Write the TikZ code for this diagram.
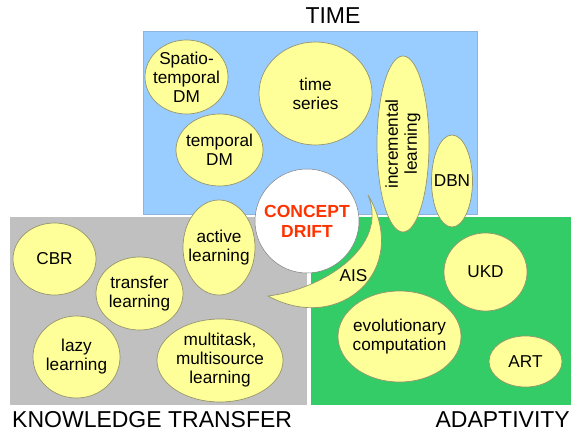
\documentclass[tikz,border=0pt]{standalone}
\usepackage{fontspec}
\setmainfont{Liberation Sans}
\usetikzlibrary{shapes.geometric}

\definecolor{timeblue}{RGB}{153,204,255}
\definecolor{timeline}{RGB}{140,180,220}
\definecolor{ktgrey}{RGB}{192,192,192}
\definecolor{adaptgreen}{RGB}{51,204,102}
\definecolor{bubblefill}{RGB}{255,255,153}
\definecolor{bubbleline}{RGB}{150,150,110}
\definecolor{driftred}{RGB}{255,51,0}

\begin{document}
\begin{tikzpicture}[
  x=1pt, y=-1pt,
  bubble/.style={ellipse, draw=bubbleline, fill=bubblefill, line width=0.7pt, inner sep=0pt},
  lbl/.style={align=center, inner sep=0pt, font=\fontsize{17.2}{19}\selectfont},
  heading/.style={inner sep=0pt, font=\fontsize{23}{26}\selectfont}
]
\useasboundingbox (0,0) rectangle (581,436);

% the three fields
\filldraw[fill=timeblue, draw=timeline, line width=0.5pt] (143,31) rectangle (477,214);
\fill[ktgrey] (10,217) rectangle (307,405);
\fill[adaptgreen] (311,217) rectangle (571,405);

\node[heading] (time) at (333,16) {TIME};
\node[heading, anchor=west] (kt) at (12,420) {KNOWLEDGE TRANSFER};
\node[heading, anchor=east] (adapt) at (570,420) {ADAPTIVITY};

% time
\node[bubble, minimum width=83, minimum height=74] (spatio) at (186.5,77) {};
\node[lbl] (spatiotxt) at (spatio) {Spatio-\\temporal\\DM};
\node[bubble, minimum width=113, minimum height=103] (series) at (315.5,93.5) {};
\node[lbl] (seriestxt) at (series) {time\\series};
\node[bubble, minimum width=87, minimum height=72] (temporal) at (219.5,150) {};
\node[lbl] (temporaltxt) at (temporal) {temporal\\DM};
\node[bubble, minimum width=52, minimum height=176] (incr) at (403,144) {};
\node[lbl, rotate=90] (incrtxt) at (incr) {incremental\\learning};
\node[bubble, minimum width=41, minimum height=92] (dbn) at (452,181) {};
\node[lbl] (dbntxt) at (dbn) {DBN};

% knowledge transfer
\node[bubble, minimum width=72, minimum height=95] (active) at (219,247.5) {};
\node[lbl] (activetxt) at (active) {active\\learning};
\node[bubble, minimum width=83, minimum height=72] (cbr) at (54.5,259) {};
\node[lbl] (cbrtxt) at (cbr) {CBR};
\node[bubble, minimum width=87, minimum height=73] (transfer) at (139.5,293.5) {};
\node[lbl] (transfertxt) at (transfer) {transfer\\learning};
\node[bubble, minimum width=87, minimum height=82] (lazy) at (76.5,357) {};
\node[lbl] (lazytxt) at (lazy) {lazy\\learning};
\node[bubble, minimum width=126, minimum height=83] (multi) at (220,360.5) {};
\node[lbl] (multitxt) at (multi) {multitask,\\multisource\\learning};

% adaptivity
\node[bubble, minimum width=83, minimum height=78] (ukd) at (485.5,272) {};
\node[lbl] (ukdtxt) at (ukd) {UKD};
\node[bubble, minimum width=123, minimum height=91] (evo) at (399.5,336.5) {};
\node[lbl] (evotxt) at (evo) {evolutionary\\computation};
\node[bubble, minimum width=73, minimum height=51] (art) at (525.5,361.5) {};
\node[lbl] (arttxt) at (art) {ART};

% crescent
\filldraw[draw=bubbleline, fill=bubblefill, line width=0.7pt]
  (368,195) .. controls (412,270) and (340,335) .. (268,296)
  .. controls (320,290) and (390,248) .. cycle;
\node[lbl] (ais) at (353.5,276) {AIS};

% centre
\node[circle, draw=gray, fill=white, line width=0.5pt, minimum size=104, inner sep=0pt] (drift) at (307,221) {};
\node[lbl, text=driftred, font=\fontsize{17.5}{20}\selectfont\bfseries] (drifttxt) at (drift) {CONCEPT\\DRIFT};
\end{tikzpicture}
\end{document}
